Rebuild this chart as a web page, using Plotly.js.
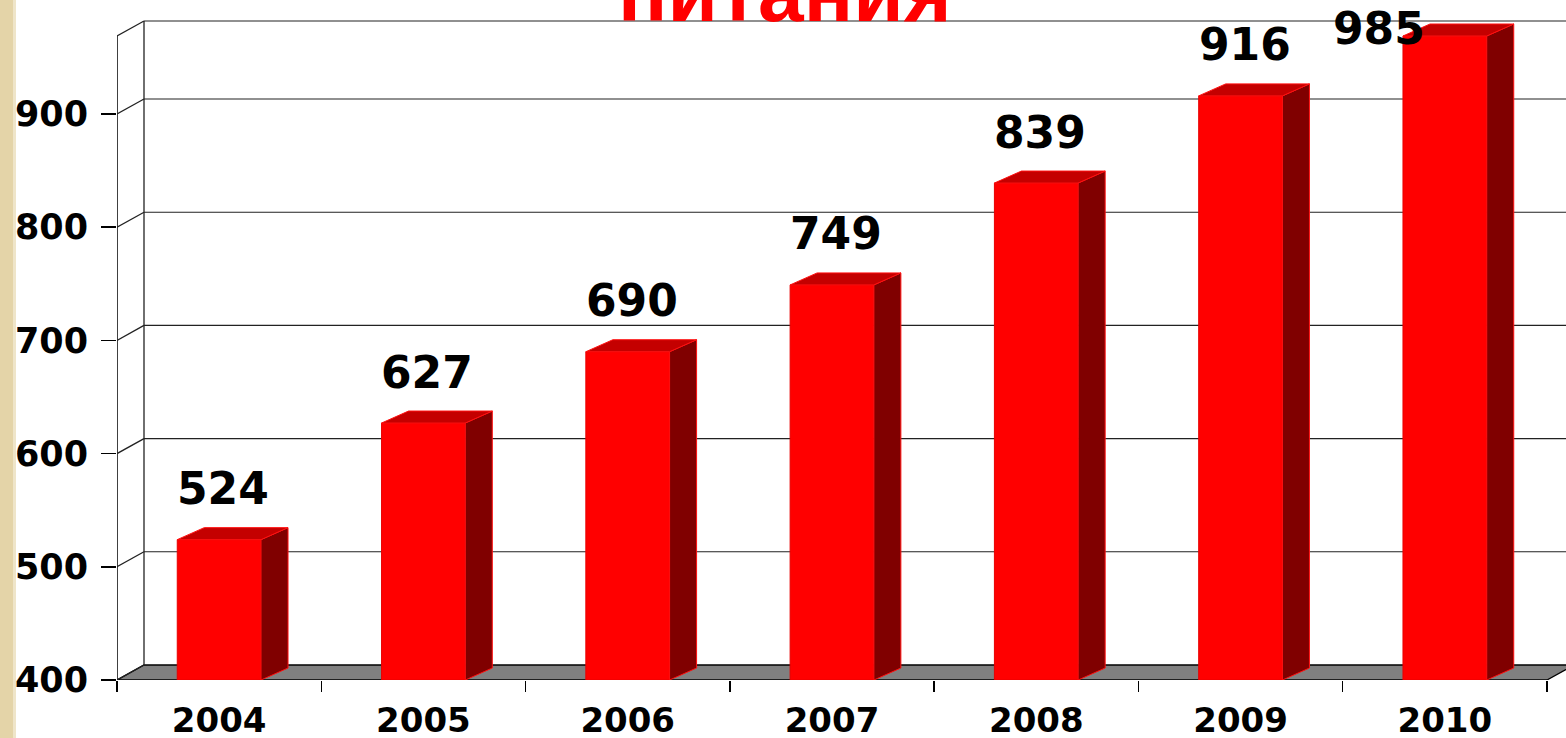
<!DOCTYPE html>
<html>
<head>
<meta charset="utf-8">
<script src="https://cdn.plot.ly/plotly-3.0.1.min.js"></script>
<style>
html,body{margin:0;padding:0;background:#fff;}
#chart{width:1566px;height:738px;}
</style>
</head>
<body>
<div id="chart"></div>
<script>
// ---- data ----
const years = ['2004', '2005', '2006', '2007', '2008', '2009', '2010'];
const values = [524, 627, 690, 749, 839, 916, 985];
const yTickVals = [400, 500, 600, 700, 800, 900];
const yTickText = ['400', '500', '600', '700', '800', '900'];
const titleText = 'питания';

// ---- geometry ----
const W = 1566, H = 738;
const mL = 117, mR = 0, mT = 19, mB = 58;
const plotW = W - mL - mR, plotH = H - mT - mB;
const catPx = (1547 - 117) / years.length;
const pxPerUnit = 566 / 500;
const yMin = 400;
const xMin = -0.5, xMax = -0.5 + plotW / catPx;
const yMax = yMin + plotH / pxPerUnit;
const dx = p => p / catPx;
const dy = p => p / pxPerUnit;
const wdx = dx(27), wdy = dy(15);
const bdx = dx(27), bdy = dy(12);
const wallTop = yMax - dy(2);
const frontMax = wallTop - wdy;
const half = 0.205;
const xEnd = xMin + years.length;

const idx = years.map((_, i) => i);
const tops = values.map(v => Math.min(v, frontMax));

// ---- shapes (walls, floor, grid) ----
const shapes = [];
const lineCol = '#222';
// floor
shapes.push({type:'path', xref:'x', yref:'y', layer:'below',
  path:`M ${xMin},${yMin} L ${xEnd},${yMin} L ${xEnd+wdx},${yMin+wdy} L ${xMin+wdx},${yMin+wdy} Z`,
  fillcolor:'#808080', line:{color:'#000', width:1.3}});
// left wall verticals
shapes.push({type:'line', xref:'x', yref:'y', layer:'below', x0:xMin, y0:yMin, x1:xMin, y1:frontMax, line:{color:'#000', width:1.5}});
shapes.push({type:'line', xref:'x', yref:'y', layer:'below', x0:xMin+wdx, y0:yMin+wdy, x1:xMin+wdx, y1:wallTop, line:{color:lineCol, width:1.3}});
// left wall diagonals + back wall grid
yTickVals.concat([frontMax]).forEach(v => {
  shapes.push({type:'line', xref:'x', yref:'y', layer:'below', x0:xMin, y0:v, x1:xMin+wdx, y1:v+wdy, line:{color:lineCol, width:1.3}});
  if (v > yMin) {
    shapes.push({type:'line', xref:'x', yref:'y', layer:'below', x0:xMin+wdx, y0:v+wdy, x1:xMax, y1:v+wdy, line:{color:lineCol, width:1.1}});
  }
});
// beige slide background strip on the left
const px2paperX = p => (p - mL) / plotW;
const px2paperY = p => (H - mB - p) / plotH;
shapes.push({type:'rect', xref:'paper', yref:'paper', layer:'below',
  x0:px2paperX(0), x1:px2paperX(16), y0:px2paperY(H), y1:px2paperY(0),
  fillcolor:'#E4D4A8', line:{width:0}});
shapes.push({type:'rect', xref:'paper', yref:'paper', layer:'below',
  x0:px2paperX(13), x1:px2paperX(16), y0:px2paperY(H), y1:px2paperY(0),
  fillcolor:'#EFE5C9', line:{width:0}});

// ---- traces ----
const front = {
  type:'bar', x:idx, y:tops.map(t => t - yMin), base:yMin, width:2*half,
  marker:{color:'#FF0000', line:{color:'#E80000', width:1}},
  hoverinfo:'skip', showlegend:false
};
const sx = [], sy = [], tx = [], ty = [];
idx.forEach(i => {
  const x0 = i - half, x1 = i + half, t = tops[i];
  sx.push(x1, x1+bdx, x1+bdx, x1, x1, null);
  sy.push(yMin, yMin+bdy, t+bdy, t, yMin, null);
  tx.push(x0, x1, x1+bdx, x0+bdx, x0, null);
  ty.push(t, t, t+bdy, t+bdy, t, null);
});
const side = {type:'scatter', mode:'lines', x:sx, y:sy, fill:'toself', fillcolor:'#800000',
  line:{color:'#FF1010', width:1}, hoverinfo:'skip', showlegend:false};
const topF = {type:'scatter', mode:'lines', x:tx, y:ty, fill:'toself', fillcolor:'#C40000',
  line:{color:'#FF1010', width:1}, hoverinfo:'skip', showlegend:false};

// ---- annotations ----
const labelFont = {family:'DejaVu Sans', size:44, color:'#000', weight:700};
const labelMax = yMin + (680 - 28) / pxPerUnit;
const annotations = values.map((v, i) => {
  const want = v + dy(51);
  const clamped = want > labelMax;
  return {xref:'x', yref:'y', x: i + dx(clamped ? -66 : 4), y: Math.min(want, labelMax),
    text: String(v), showarrow:false, xanchor:'center', yanchor:'middle', font:labelFont};
});
annotations.push({xref:'paper', yref:'paper', x:px2paperX(785), y:px2paperY(-8),
  text:titleText, showarrow:false, xanchor:'center', yanchor:'middle',
  font:{family:'Liberation Sans, Arial', size:82, color:'#FF0000', weight:700}});

const layout = {
  width:W, height:H,
  margin:{l:mL, r:mR, t:mT, b:mB, pad:0},
  paper_bgcolor:'#FFFFFF', plot_bgcolor:'#FFFFFF',
  showlegend:false,
  xaxis:{range:[xMin, xMax], tickmode:'array', tickvals:idx, ticktext:years,
    ticks:'', showgrid:false, zeroline:false, showline:false,
    tickfont:{family:'DejaVu Sans', size:34, color:'#000', weight:700},
    ticklabelstandoff:17,
    minor:{tickmode:'array', tickvals:idx.concat([years.length]).map(i => i - 0.5),
      ticks:'outside', ticklen:11, tickcolor:'#000', tickwidth:1.5, showgrid:false},
    fixedrange:true},
  yaxis:{range:[yMin, yMax], tickmode:'array', tickvals:yTickVals, ticktext:yTickText,
    ticks:'outside', ticklen:15, tickcolor:'#000', tickwidth:1.5,
    showgrid:false, zeroline:false, showline:false,
    tickfont:{family:'DejaVu Sans', size:35, color:'#000', weight:700},
    ticklabelstandoff:6, fixedrange:true},
  shapes:shapes,
  annotations:annotations,
  bargap:0
};

Plotly.newPlot('chart', [front, side, topF], layout, {displayModeBar:false, staticPlot:true});
</script>
</body>
</html>
